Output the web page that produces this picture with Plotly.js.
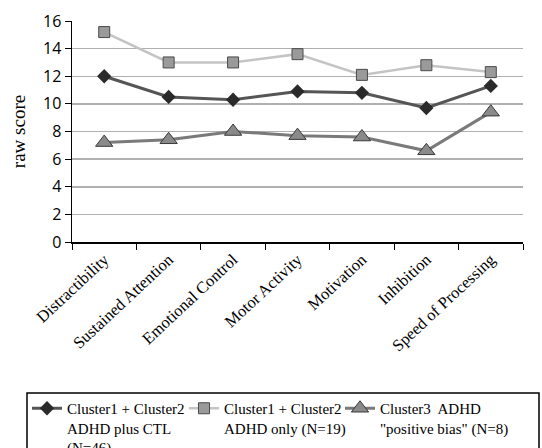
<!DOCTYPE html>
<html>
<head>
<meta charset="utf-8">
<script src="https://cdn.plot.ly/plotly-3.0.1.min.js"></script>
<style>html,body{margin:0;padding:0;background:#fff;}#chart{width:542px;height:448px;}</style>
</head>
<body>
<div id="chart"></div>
<script>
var categories = ["Distractibility", "Sustained Attention", "Emotional Control", "Motor Activity", "Motivation", "Inhibition", "Speed of Processing"];
var seriesNames = ["Cluster1 + Cluster2<br>ADHD plus CTL<br>(N=46)", "Cluster1 + Cluster2<br>ADHD only (N=19)", "Cluster3  ADHD<br>\"positive bias\" (N=8)"];
var adhdPlusCtl = [12.0, 10.5, 10.3, 10.9, 10.8, 9.7, 11.3];
var adhdOnly = [15.2, 13.0, 13.0, 13.6, 12.1, 12.8, 12.3];
var positiveBias = [7.2, 7.4, 8.0, 7.7, 7.6, 6.6, 9.4];
var yTicks = [0, 2, 4, 6, 8, 10, 12, 14, 16];

var serif = "'Liberation Serif', 'Times New Roman', serif";
var W = 542, H = 448;
var ML = 72, MR = 19, MT = 21, MB = 206;
var plotW = W - ML - MR, plotH = H - MT - MB;
function px2paperX(px) { return (px - ML) / plotW; }
function px2paperY(py) { return (H - MB - py) / plotH; }

var traces = [
  {x: categories, y: adhdPlusCtl, name: seriesNames[0], type: "scatter", mode: "lines+markers", legend: "legend",
   line: {color: "#555555", width: 3}, marker: {symbol: "diamond", size: 11, color: "#2a2a2a"}},
  {x: categories, y: adhdOnly, name: seriesNames[1], type: "scatter", mode: "lines+markers", legend: "legend2",
   line: {color: "#c4c4c4", width: 2.5}, marker: {symbol: "square", size: 11, color: "#9a9a9a", line: {color: "#4a4a4a", width: 1}}},
  {x: categories, y: positiveBias, name: seriesNames[2], type: "scatter", mode: "lines+markers", legend: "legend3",
   line: {color: "#7a7a7a", width: 3}, marker: {symbol: "triangle-up", size: 15, color: "#8a8a8a", line: {color: "#3a3a3a", width: 1}}}
];

function legendAt(leftPx) {
  return {
    orientation: "h", xref: "container", yref: "container",
    x: leftPx / W, y: 1 - 392 / H, xanchor: "left", yanchor: "top",
    borderwidth: 0, bgcolor: "rgba(0,0,0,0)", valign: "top",
    font: {family: serif, size: 15, color: "#000"}
  };
}

var layout = {
  width: W, height: H,
  margin: {l: ML, r: MR, t: MT, b: MB, autoexpand: false},
  paper_bgcolor: "#ffffff", plot_bgcolor: "#ffffff",
  showlegend: true,
  xaxis: {
    type: "category", range: [-0.5, 6.5],
    showline: true, linecolor: "#000", linewidth: 1.5,
    ticks: "outside", tickson: "boundaries", ticklen: 6, tickcolor: "#000",
    tickangle: -43,
    tickfont: {family: serif, size: 16.5, color: "#000"},
    showgrid: false, zeroline: false
  },
  yaxis: {
    range: [0, 16], tickvals: yTicks, ticktext: yTicks.map(String),
    showline: true, linecolor: "#000", linewidth: 1.5,
    ticks: "outside", ticklen: 6, tickcolor: "#000",
    tickfont: {family: "'Open Sans', 'Liberation Sans', sans-serif", size: 16, color: "#000"},
    showgrid: true, gridcolor: "#b0b0b0", gridwidth: 1.5, zeroline: false,
    title: {text: "raw score", font: {family: serif, size: 19, color: "#000"}, standoff: 12}
  },
  legend: legendAt(27),
  legend2: legendAt(184),
  legend3: legendAt(340),
  shapes: [{
    type: "rect", xref: "paper", yref: "paper",
    x0: px2paperX(27), x1: px2paperX(539), y0: px2paperY(393), y1: px2paperY(470),
    line: {color: "#000", width: 1.5}, fillcolor: "rgba(0,0,0,0)", layer: "below"
  }]
};

Plotly.newPlot("chart", traces, layout, {displayModeBar: false, staticPlot: true});
</script>
</body>
</html>
